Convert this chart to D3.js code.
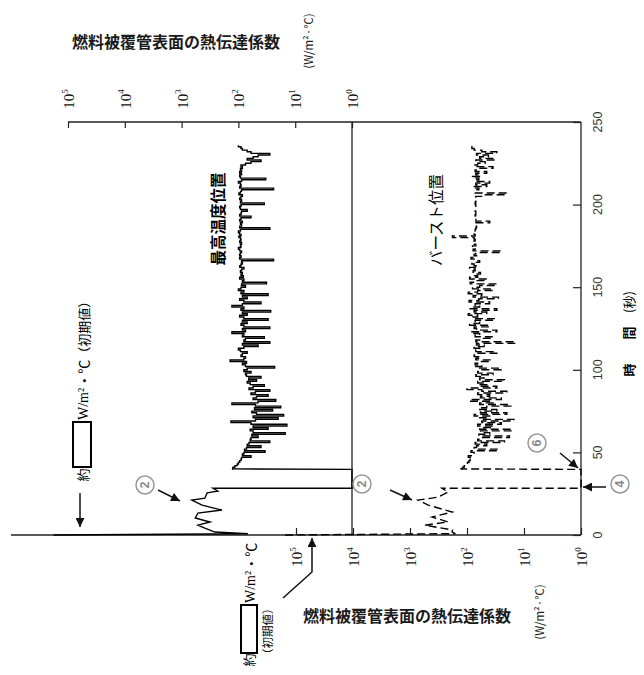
<!DOCTYPE html>
<html><head><meta charset="utf-8">
<script src="https://cdn.jsdelivr.net/npm/d3@7"></script>
<style>body{margin:0;background:#fff}</style>
</head><body><svg id="c" width="644" height="675"></svg>
<script>
// ---------- DATA ----------
const timeTicks = [0, 50, 100, 150, 200, 250];
const coefTicks = [1e5, 1e4, 1e3, 1e2, 1e1, 1e0];
const titleText = "燃料被覆管表面の熱伝達係数";
const unitText = "(W/m²·℃)";
const maxTempLabel = "最高温度位置";
const burstLabel = "バースト位置";

// 最高温度位置 (solid) – early part (time s, coefficient W/m2C)
const maxTempEarlyT = [0, 0.8, 1.8, 4.2, 6, 7.9, 10.3, 13.3, 15.1, 18.1, 21.1, 22.3, 25.5, 26.5, 28.3, 28.3, 39.7];
const maxTempEarlyV = [180000, 68, 260, 390, 515, 316, 575, 515, 195, 436, 660, 390, 355, 230, 280, 1, 1];
// 最高温度位置 – t = 40 … 236 s, 1 s steps
const maxTempNoise = [
 130,125,115,105,100,95,90,88,60,85,
 80,34,78,72,40,70,65,28,62,60,
 45,58,15,55,62,30,55,14,60,135,
 50,20,55,16,48,58,25,52,18,50,
 130,45,22,55,48,30,60,50,28,65,
 55,35,62,70,48,66,40,72,75,60,
 80,70,23,75,85,72,140,80,75,90,
 85,70,92,100,80,45,85,28,80,75,
 35,85,80,130,75,85,28,80,90,70,
 85,30,80,95,70,85,27,90,80,130,
 85,40,80,95,70,85,30,90,80,100,
 90,75,88,32,85,80,95,82,90,85,
 92,88,80,95,90,85,88,24,95,90,
 95,92,88,95,100,90,92,88,95,90,
 92,98,90,95,100,92,28,95,88,92,
 85,95,90,60,95,90,88,70,92,95,
 90,35,92,88,95,90,85,98,92,88,
 24,95,90,92,100,88,33,92,95,88,
 95,88,92,85,90,75,60,40,70,55,
 45,28,60,70,85,90,100];

// バースト位置 (dashed)
const burstEarlyT = [0, 0.8, 1.8, 3, 6, 7.9, 10.9, 13.9, 18.1, 21.1, 22.9, 26, 28.3, 28.3, 39.7];
const burstEarlyV = [155000, 160, 182, 180, 550, 214, 410, 182, 480, 725, 325, 214, 275, 1, 1];
const burstNoise = [
 130,120,112,105,98,92,88,82,95,80,
 75,85,28,75,68,45,72,22,65,58,
 18,62,40,58,16,60,35,65,25,55,
 15,60,40,75,20,58,30,62,45,17,
 60,35,90,25,58,40,65,20,55,100,
 30,62,45,65,22,60,50,70,35,65,
 60,25,70,55,72,62,38,70,58,75,
 65,30,70,60,75,50,68,14,70,60,
 35,72,60,85,30,68,75,40,90,60,
 72,32,80,65,95,45,75,30,88,60,
 72,40,92,62,28,78,55,95,65,35,
 80,60,30,88,72,45,90,65,75,58,
 78,72,90,65,75,82,60,72,85,68,
 75,70,25,78,72,80,70,75,78,72,
 75,180,72,75,70,72,70,68,72,70,
 40,70,72,70,72,70,70,72,70,70,
 70,72,70,72,70,70,50,20,72,70,
 62,78,45,70,40,72,62,80,58,70,
 45,72,62,35,75,65,48,70,32,60,
 42,68,30,55,75,82,90];
const noiseStart = 40;

// ---------- CHART ----------
const svg = d3.select("#c");
svg.append("rect").attr("width", 644).attr("height", 675).attr("fill", "#fff");

const tScale = d3.scaleLinear().domain([0, 250]).range([535, 122]);
const xUpper = d3.scaleLog().domain([1e5, 1]).range([68, 352]);
const xLower = d3.scaleLog().domain([1e5, 1]).range([296, 581]);

const CJK = "'Noto Sans CJK JP', sans-serif";
const SERIF = "'Liberation Serif', 'Noto Sans CJK JP', serif";
const frameColor = "#222";

const defs = svg.append("defs");
defs.append("marker").attr("id", "ah").attr("viewBox", "0 0 10 10")
  .attr("refX", 10).attr("refY", 5).attr("markerWidth", 10).attr("markerHeight", 9)
  .attr("markerUnits", "userSpaceOnUse").attr("orient", "auto")
  .append("path").attr("d", "M0,0L10,5L0,10z").attr("fill", "#111");

// frame
const frame = svg.append("g").attr("stroke", frameColor).attr("stroke-width", 1.3).attr("fill", "none");
frame.append("line").attr("x1", xUpper(1e5)).attr("x2", xLower(1)).attr("y1", tScale(250)).attr("y2", tScale(250));
frame.append("line").attr("x1", xLower(1)).attr("x2", xLower(1)).attr("y1", tScale(250)).attr("y2", tScale(0));
frame.append("line").attr("x1", xUpper(1)).attr("x2", xUpper(1)).attr("y1", tScale(250)).attr("y2", tScale(0));
frame.append("line").attr("x1", 11).attr("x2", xLower(1)).attr("y1", tScale(0)).attr("y2", tScale(0));

function styleAxis(g) {
  g.select(".domain").remove();
  g.selectAll(".tick line").attr("stroke", frameColor).attr("stroke-width", 1.2);
  g.selectAll(".tick text").remove();
}
svg.append("g").attr("transform", `translate(0,${tScale(250)})`)
  .call(d3.axisTop(xUpper).tickValues(coefTicks).tickSize(-6).tickSizeOuter(0)).call(styleAxis);
svg.append("g").attr("transform", `translate(0,${tScale(0)})`)
  .call(d3.axisBottom(xLower).tickValues(coefTicks).tickSize(-7).tickSizeOuter(0)).call(styleAxis);
svg.append("g").attr("transform", `translate(${xLower(1)},0)`)
  .call(d3.axisRight(tScale).tickValues(timeTicks).tickSize(-8).tickSizeOuter(0)).call(styleAxis);

function powLabel(sel) {
  sel.attr("text-anchor", "middle").attr("dominant-baseline", "central")
    .attr("font-family", SERIF).attr("font-size", 15).attr("fill", "#111");
  sel.append("tspan").text("10");
  sel.append("tspan").attr("dy", "-0.5em").attr("font-size", 9).text(d => Math.round(Math.log10(d)));
}
svg.append("g").selectAll("text").data(coefTicks).join("text")
  .attr("transform", d => `translate(${xUpper(d) + 1},${tScale(250) - 23}) rotate(-90)`).call(powLabel);
svg.append("g").selectAll("text").data(coefTicks).join("text")
  .attr("transform", d => `translate(${xLower(d) + 1},${tScale(0) + 22}) rotate(-90)`).call(powLabel);
svg.append("g").selectAll("text").data(timeTicks).join("text")
  .attr("transform", d => `translate(${xLower(1) + 17},${tScale(d)}) rotate(-90)`)
  .attr("text-anchor", "middle").attr("dominant-baseline", "central")
  .attr("font-family", "'Liberation Sans', Arial, sans-serif").attr("font-size", 12.5).attr("fill", "#333")
  .text(d => d);

// series: early part drawn as straight zigzag, later part as steps
const maxTempEarly = maxTempEarlyT.map((t, i) => [t, maxTempEarlyV[i]]);
const maxTempLate = maxTempNoise.map((v, i) => [noiseStart + i, v]);
const burstEarly = burstEarlyT.map((t, i) => [t, burstEarlyV[i]]);
const burstLate = burstNoise.map((v, i) => [noiseStart + i, v]);

const lineU = d3.line().x(d => xUpper(d[1])).y(d => tScale(d[0]));
const lineL = d3.line().x(d => xLower(d[1])).y(d => tScale(d[0]));

const gU = svg.append("g").attr("fill", "none").attr("stroke", "#000").attr("stroke-width", 1.4);
gU.append("path").attr("d", lineU(maxTempEarly.concat([maxTempLate[0]])));
gU.append("path").attr("d", lineU.curve(d3.curveStepAfter)(maxTempLate));

const gL = svg.append("g").attr("fill", "none").attr("stroke", "#000").attr("stroke-width", 1.4).attr("stroke-dasharray", "8,4");
gL.append("path").attr("d", lineL(burstEarly.concat([burstLate[0]])));
gL.append("path").attr("d", lineL.curve(d3.curveStepAfter)(burstLate));

// text helper
function vtext(x, y, anchor) {
  return svg.append("text").attr("transform", `translate(${x},${y}) rotate(-90)`)
    .attr("text-anchor", anchor).attr("dominant-baseline", "central");
}

// titles
[[72, 41], [303, 615]].forEach(([x, y]) => {
  svg.append("text").attr("x", x).attr("y", y).attr("dominant-baseline", "central")
    .attr("font-family", CJK).attr("font-size", 16).attr("font-weight", "bold").attr("fill", "#1a1a1a")
    .text(titleText);
});
[[308, 41], [539, 612]].forEach(([x, y]) => {
  vtext(x, y, "middle").attr("font-family", CJK).attr("font-size", 11.5).attr("fill", "#222").text(unitText);
});

// series labels
vtext(217, 219, "middle").attr("font-family", CJK).attr("font-size", 15.5).attr("font-weight", "bold").text(maxTempLabel);
vtext(435, 220, "middle").attr("font-family", CJK).attr("font-size", 15.5).text(burstLabel);

// time axis title
vtext(628, 370, "middle").attr("font-family", CJK).attr("font-size", 13).attr("font-weight", "bold").text("時");
vtext(628, 333, "middle").attr("font-family", CJK).attr("font-size", 13).attr("font-weight", "bold").text("間");
vtext(628, 302, "middle").attr("font-family", CJK).attr("font-size", 13).text("(秒)");

// initial-value annotation (upper)
vtext(82, 475, "middle").attr("font-family", CJK).attr("font-size", 13).text("約");
svg.append("rect").attr("x", 73).attr("y", 422).attr("width", 18).attr("height", 45)
  .attr("fill", "none").attr("stroke", "#000").attr("stroke-width", 2);
{
  const t = vtext(83, 420, "start").attr("font-family", SERIF).attr("font-size", 14);
  t.append("tspan").text("W/m²");
  t.append("tspan").attr("font-family", CJK).text("・℃");
  t.append("tspan").attr("font-family", CJK).attr("font-size", 13).text("（初期値）");
}
svg.append("line").attr("x1", 80).attr("y1", 493).attr("x2", 80).attr("y2", 527)
  .attr("stroke", "#111").attr("stroke-width", 1.5).attr("marker-end", "url(#ah)");

// initial-value annotation (lower)
vtext(248, 660, "middle").attr("font-family", CJK).attr("font-size", 13).text("約");
svg.append("rect").attr("x", 241).attr("y", 605).attr("width", 16).attr("height", 48)
  .attr("fill", "none").attr("stroke", "#000").attr("stroke-width", 2);
{
  const t = vtext(250, 603, "start").attr("font-family", SERIF).attr("font-size", 14);
  t.append("tspan").text("W/m²");
  t.append("tspan").attr("font-family", CJK).text("・℃");
}
vtext(267, 660, "start").attr("font-family", CJK).attr("font-size", 11.5).text("（初期値）");
svg.append("polyline").attr("points", "283,598 312,572 312,538")
  .attr("fill", "none").attr("stroke", "#111").attr("stroke-width", 1.5).attr("marker-end", "url(#ah)");

// circled markers
function circled(x, y, s) {
  svg.append("circle").attr("cx", x).attr("cy", y).attr("r", 9)
    .attr("fill", "#fff").attr("stroke", "#999").attr("stroke-width", 1.5);
  vtext(x, y, "middle").attr("font-family", "'Liberation Sans', sans-serif").attr("font-size", 12.5)
    .attr("fill", "#888").attr("font-weight", "bold").text(s);
}
circled(145, 485, "2");
circled(362, 484, "2");
circled(620, 484, "4");
circled(537, 443, "6");

// arrows
[[158, 490, 180, 501], [390, 490, 412, 500], [606, 487, 583, 487], [560, 453, 578, 468]].forEach(([a, b, c, d]) => {
  svg.append("line").attr("x1", a).attr("y1", b).attr("x2", c).attr("y2", d)
    .attr("stroke", "#111").attr("stroke-width", 1.5).attr("marker-end", "url(#ah)");
});
</script></body></html>
